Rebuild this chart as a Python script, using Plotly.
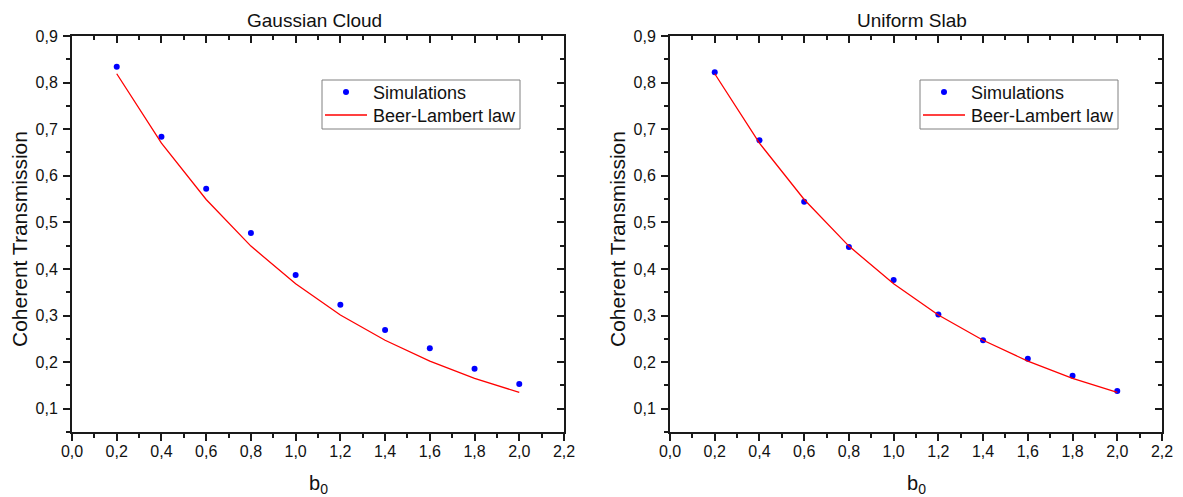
import plotly.graph_objects as go

# Optical depth values
b0 = [0.2, 0.4, 0.6, 0.8, 1.0, 1.2, 1.4, 1.6, 1.8, 2.0]

# Gaussian cloud: simulated coherent transmission and Beer-Lambert prediction
gauss_sim = [0.834, 0.684, 0.572, 0.477, 0.387, 0.323, 0.269, 0.230, 0.186, 0.153]
gauss_bl = [0.819, 0.670, 0.549, 0.449, 0.368, 0.301, 0.247, 0.202, 0.165, 0.135]

# Uniform slab: simulated coherent transmission and Beer-Lambert prediction
slab_sim = [0.822, 0.676, 0.544, 0.447, 0.376, 0.302, 0.247, 0.207, 0.171, 0.138]
slab_bl = [0.819, 0.670, 0.549, 0.449, 0.368, 0.301, 0.247, 0.202, 0.165, 0.135]

titles = ["Gaussian Cloud", "Uniform Slab"]
x_title = "b<sub>0</sub>"
y_title = "Coherent Transmission"
legend_names = ["Simulations", "Beer-Lambert law"]

W, H = 1183, 497
FONT = "Liberation Sans, Arial, sans-serif"
AX = "#1a1a1a"
BLUE = "#0000ff"
RED = "#ff0000"

x_range = [0.0, 2.2]
y_range = [0.05, 0.9]

# pixel extents of the two plot areas
panels = [(72, 564), (670, 1162)]
top_px, bot_px = 36, 432
y_dom = [1 - bot_px / H, 1 - top_px / H]

fig = go.Figure()

series = [(gauss_sim, gauss_bl), (slab_sim, slab_bl)]
for i, (sim, bl) in enumerate(series):
    xa = "x" if i == 0 else "x2"
    ya = "y" if i == 0 else "y2"
    fig.add_trace(go.Scatter(
        x=b0, y=sim, mode="markers", name=legend_names[0], showlegend=False,
        marker=dict(color=BLUE, size=6), xaxis=xa, yaxis=ya,
    ))
    fig.add_trace(go.Scatter(
        x=b0, y=bl, mode="lines", name=legend_names[1], showlegend=False,
        line=dict(color=RED, width=1.3), xaxis=xa, yaxis=ya,
    ))

tickfont = dict(family=FONT, size=16, color="#111")


def base_x(dom, anchor, **kw):
    d = dict(domain=dom, anchor=anchor, range=x_range, dtick=0.2, tick0=0,
             ticks="outside", ticklen=7, tickwidth=1.5, tickcolor=AX,
             showline=True, linecolor=AX, linewidth=2, showgrid=False,
             zeroline=False, tickfont=tickfont, tickformat=".1f",
             automargin=False, ticklabelstandoff=-3,
             minor=dict(ticks="outside", dtick=0.1, ticklen=4, tickwidth=1.5,
                        tickcolor=AX, showgrid=False))
    d.update(kw)
    return d


def base_y(anchor, **kw):
    d = dict(domain=y_dom, anchor=anchor, range=y_range, dtick=0.1, tick0=0,
             ticks="outside", ticklen=7, tickwidth=1.5, tickcolor=AX,
             showline=True, linecolor=AX, linewidth=2, showgrid=False,
             zeroline=False, tickfont=tickfont, tickformat=".1f",
             automargin=False, ticklabelstandoff=2,
             minor=dict(ticks="outside", dtick=0.05, ticklen=4, tickwidth=1.5,
                        tickcolor=AX, showgrid=False))
    d.update(kw)
    return d


inside_minor_x = dict(ticks="inside", dtick=0.1, ticklen=4, tickwidth=1.5,
                      tickcolor=AX, showgrid=False)
inside_minor_y = dict(ticks="inside", dtick=0.05, ticklen=4, tickwidth=1.5,
                      tickcolor=AX, showgrid=False)

layout = dict(width=W, height=H, margin=dict(l=0, r=0, t=0, b=0),
              paper_bgcolor="white", plot_bgcolor="white", showlegend=False,
              separators=",.", font=dict(family=FONT, color="#111"))

for i, (l, r) in enumerate(panels):
    dom = [l / W, r / W]
    n = i + 1
    xk = "xaxis" if n == 1 else "xaxis2"
    yk = "yaxis" if n == 1 else "yaxis2"
    xr = "x" if n == 1 else "x2"
    yr = "y" if n == 1 else "y2"
    layout[xk] = base_x(dom, yr)
    layout[yk] = base_y(xr)
    # top and right frame with inward ticks
    tx, ty = 2 * n + 1, 2 * n + 2
    layout[f"xaxis{tx}"] = base_x(dom, yr, overlaying=xr, side="top",
                                  ticks="inside", showticklabels=False,
                                  minor=inside_minor_x)
    layout[f"yaxis{ty}"] = base_y(xr, overlaying=yr, side="right",
                                  ticks="inside", showticklabels=False,
                                  minor=inside_minor_y)

fig.update_layout(**layout)

# keep mirrored axes alive with invisible copies of the curves
for i, (sim, bl) in enumerate(series):
    n = i + 1
    fig.add_trace(go.Scatter(x=b0, y=bl, mode="lines", opacity=0,
                             showlegend=False, hoverinfo="skip",
                             xaxis=f"x{2 * n + 1}", yaxis=f"y{2 * n + 2}"))


def px(x):
    return x / W


def py(y):
    return 1 - y / H


# legend boxes, one per panel
for i, (l, r) in enumerate(panels):
    off = l - panels[0][0]
    bx0, bx1, by0, by1 = 322 + off, 520 + off, 80, 129
    fig.add_shape(type="rect", xref="paper", yref="paper",
                  x0=px(bx0), x1=px(bx1), y0=py(by1), y1=py(by0),
                  line=dict(color="#808080", width=1), fillcolor="white",
                  layer="above")
    sym_c = 346 + off
    fig.add_shape(type="circle", xref="paper", yref="paper",
                  x0=px(sym_c - 3), x1=px(sym_c + 3),
                  y0=py(92 + 3), y1=py(92 - 3),
                  line=dict(color=BLUE, width=0), fillcolor=BLUE,
                  layer="above")
    fig.add_shape(type="line", xref="paper", yref="paper",
                  x0=px(325 + off), x1=px(367 + off), y0=py(115), y1=py(115),
                  line=dict(color=RED, width=1.3), layer="above")
    for k, yy in enumerate([93, 116]):
        fig.add_annotation(text=legend_names[k], x=px(371 + off), y=py(yy),
                           xref="paper", yref="paper", showarrow=False,
                           xanchor="left", yanchor="middle",
                           font=dict(family=FONT, size=18, color="#111"))

for i, (l, r) in enumerate(panels):
    cx = (l + r) / 2 / W
    fig.add_annotation(text=titles[i], x=cx - 4 / W, y=1 - 20 / H,
                       xref="paper", yref="paper", showarrow=False,
                       xanchor="center", yanchor="middle",
                       font=dict(family=FONT, size=19, color="#111"))
    fig.add_annotation(text=x_title, x=cx, y=1 - 484 / H, xref="paper",
                       yref="paper", showarrow=False,
                       xanchor="center", yanchor="middle",
                       font=dict(family=FONT, size=20, color="#111"))
    fig.add_annotation(text=y_title, x=(l - 52) / W,
                       y=1 - 239 / H, xref="paper",
                       yref="paper", showarrow=False, textangle=-90,
                       xanchor="center", yanchor="middle",
                       font=dict(family=FONT, size=21, color="#111"))

fig.write_html("out.html")
